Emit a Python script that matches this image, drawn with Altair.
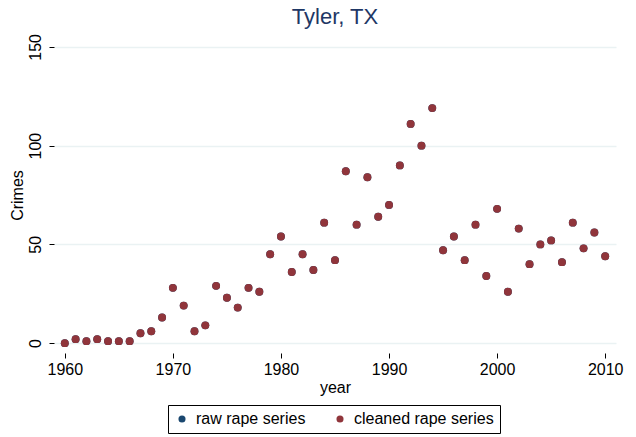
import altair as alt
import pandas as pd

years = list(range(1960, 2011))
rape_raw = [0, 2, 1, 2, 1, 1, 1, 5, 6, 13,
            28, 19, 6, 9, 29, 23, 18, 28, 26, 45,
            54, 36, 45, 37, 61, 42, 87, 60, 84, 64,
            70, 90, 111, 100, 119, 47, 54, 42, 60, 34,
            68, 26, 58, 40, 50, 52, 41, 61, 48, 56,
            44]
rape_cleaned = list(rape_raw)
series_names = ["raw rape series", "cleaned rape series"]
series_colors = ["#1a476f", "#90353b"]
y_ticks = [0, 50, 100, 150]
x_ticks = [1960, 1970, 1980, 1990, 2000, 2010]

rows = []
for name, vals in zip(series_names, [rape_raw, rape_cleaned]):
    for yr, v in zip(years, vals):
        rows.append({"year": yr, "Crimes": v, "series": name})
df = pd.DataFrame(rows)

FONT = "Liberation Sans"

chart = alt.Chart(df).mark_circle(size=62, opacity=1).encode(
    x=alt.X("year:Q", scale=alt.Scale(domain=[1959, 2011], nice=False, zero=False),
            axis=alt.Axis(values=x_ticks, format="d", grid=False, domain=False,
                          tickSize=5, tickColor="#000", labelFontSize=16,
                          labelPadding=3, titleFontSize=16, titlePadding=2,
                          labelColor="#000", titleColor="#000", titleFontWeight="normal",
                          labelFont=FONT, titleFont=FONT),
            title="year"),
    y=alt.Y("Crimes:Q", scale=alt.Scale(domain=[-5, 155], nice=False, zero=False),
            axis=alt.Axis(values=y_ticks, grid=True, gridColor="#eaf2f3", gridWidth=1.5,
                          domain=False, tickSize=5, tickColor="#000", labelAngle=270,
                          labelFontSize=16, labelPadding=6, titleFontSize=16, titlePadding=2,
                          labelColor="#000", titleColor="#000", titleFontWeight="normal",
                          labelFont=FONT, titleFont=FONT),
            title="Crimes"),
    color=alt.Color("series:N", scale=alt.Scale(domain=series_names, range=series_colors),
                    legend=alt.Legend(title=None, orient="none", legendX=114, legendY=368,
                                      direction="horizontal", strokeColor="#000",
                                      fillColor="#fff", padding=6, symbolType="circle",
                                      symbolSize=50, labelFontSize=16, labelFont=FONT,
                                      labelColor="#000", columnPadding=26, labelOffset=6,
                                      symbolStrokeWidth=0)),
    order=alt.Order("order:Q"),
).transform_calculate(
    order="datum.series == 'raw rape series' ? 0 : 1"
).properties(
    width=562, height=316,
    title=alt.TitleParams("Tyler, TX", fontSize=22, font=FONT, color="#1e3765",
                          fontWeight="normal", anchor="middle", offset=5),
    autosize=alt.AutoSizeParams(type="none"),
    padding={"left": 46, "top": 29, "right": 12, "bottom": 84},
).configure_view(stroke=None)

chart.save("out.html", embed_options={"renderer": "svg", "actions": False})
